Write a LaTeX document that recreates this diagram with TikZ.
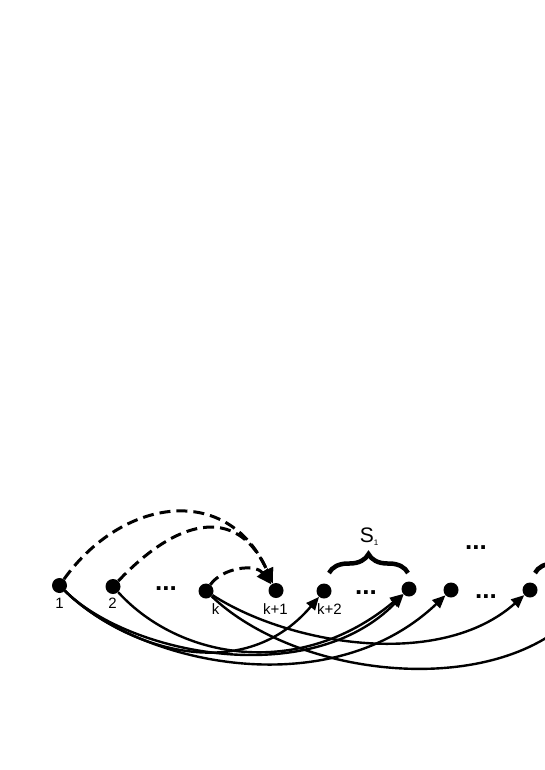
\documentclass[tikz,border=0pt]{standalone}
\usepackage{fontspec}
\setmainfont{Liberation Sans}
\usetikzlibrary{arrows.meta,decorations.pathreplacing}
\begin{document}
\begin{tikzpicture}[x=1pt,y=-1pt,
  vtx/.style={circle,fill=black,inner sep=0pt,minimum size=15pt},
  lbl/.style={font=\fontsize{15}{15}\selectfont,inner sep=0pt,anchor=base},
  dotsnode/.style={font=\fontsize{26}{26}\selectfont\bfseries,inner sep=0pt},
  solidarc/.style={line width=2.4pt,-{Triangle[length=13pt,width=11pt]}},
  dasharc/.style={line width=3pt,dash pattern=on 11pt off 6pt,-{Triangle[length=15pt,width=13pt]}},
  bracestyle/.style={line width=4.5pt,decorate,decoration={brace,amplitude=19pt}}
]
\clip (0,0) rectangle (545,770);
% vertices
\node[vtx] (n1) at (59.5,585.5) {};
\node[vtx] (n2) at (113,586.5) {};
\node[vtx] (nk) at (206,591) {};
\node[vtx] (nk1) at (276,590.5) {};
\node[vtx] (nk2) at (324,591) {};
\node[vtx] (ns) at (409,589) {};
\node[vtx] (nt) at (451,590) {};
\node[vtx] (nu) at (530,590) {};
\coordinate (off) at (580,610);
% labels
\node[lbl] (l1) at (59.5,608.5) {1};
\node[lbl] (l2) at (112.5,608.5) {2};
\node[lbl] (lk) at (215.5,614.5) {k};
\node[lbl] (lk1) at (275.5,614.5) {k+1};
\node[lbl] (lk2) at (329.5,614.5) {k+2};
% dots
\node[dotsnode] (d1) at (166,589) {...};
\node[dotsnode] (d2) at (366,593) {...};
\node[dotsnode] (d3) at (486,597) {...};
\node[dotsnode] (d4) at (476,548) {...};
% braces
\coordinate (b1a) at (329,573);
\coordinate (b1b) at (408,573);
\coordinate (b2a) at (535,573);
\coordinate (b2b) at (614,573);
\draw[bracestyle] (b1a) -- (b1b);
\draw[bracestyle] (b2a) -- (b2b);
\node[anchor=base,inner sep=0pt,font=\fontsize{21}{21}\selectfont] (S1) at (369,542) {S\raisebox{-3pt}{\fontsize{8}{8}\selectfont 1}};
% dashed arcs
\draw[dasharc] (n1) .. controls (122,498) and (227.5,482) .. (nk1);
\draw[dasharc] (n2) .. controls (184,512) and (240,510) .. (nk1);
\draw[dasharc] (nk) .. controls (222,568) and (255,563) .. (nk1);
% solid arcs
\draw[solidarc] (n1) .. controls (120,645) and (240,690) .. (nk2);
\draw[solidarc] (n1) .. controls (130,655) and (310,690) .. (ns);
\draw[solidarc] (n2) .. controls (180,660) and (300,680) .. (ns);
\draw[solidarc] (n1) .. controls (140,665) and (330,705) .. (nt);
\draw[solidarc] (nk) .. controls (290,645) and (440,670) .. (nu);
\draw[line width=2.4pt] (nk) .. controls (300,680) and (500,700) .. (off);
\end{tikzpicture}
\end{document}
